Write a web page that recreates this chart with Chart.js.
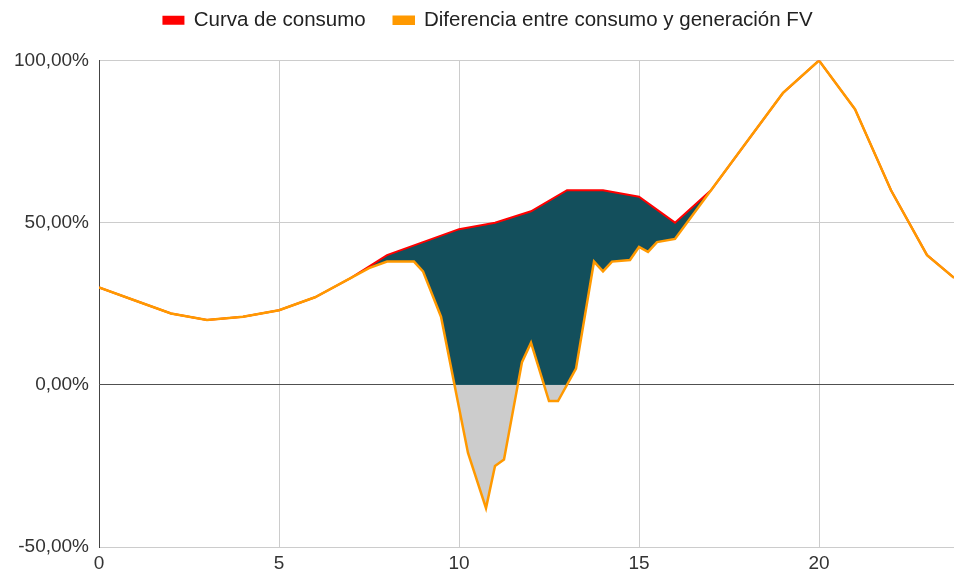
<!DOCTYPE html>
<html>
<head>
<meta charset="utf-8">
<script src="https://cdn.jsdelivr.net/npm/chart.js@4"></script>
<style>
  html, body { margin: 0; padding: 0; background: #fff; }
  #wrap { width: 954px; height: 574px; position: relative; }
</style>
</head>
<body>
<div id="wrap"><canvas id="chart"></canvas></div>
<script>
// hours for each series (15 min resolution where the curve changes fast)
const diffHours = [0, 1, 2, 3, 4, 5, 6, 7, 7.5, 8, 8.75, 9, 9.5, 10.25, 10.75, 11, 11.25, 11.75, 12, 12.5, 12.75, 13.25, 13.75, 14, 14.25, 14.75, 15, 15.25, 15.5, 16, 17, 18, 19, 20, 21, 22, 23, 23.75];
const diffValues = [30, 26, 22, 20, 21, 23, 27, 33, 36, 38, 38, 35, 21, -21, -38, -25, -23, 7, 13, -5, -5, 5, 38, 35, 38, 38.5, 42.5, 41, 44, 45, 60, 75, 90, 100, 85, 60, 40, 33];

const consumoHours = [0, 1, 2, 3, 4, 5, 6, 7, 8, 9, 10, 11, 12, 13, 14, 15, 16, 17, 18, 19, 20, 21, 22, 23, 23.75];
const consumoValues = [30, 26, 22, 20, 21, 23, 27, 33, 40, 44, 48, 50, 53.5, 60, 60, 58, 50, 60, 75, 90, 100, 85, 60, 40, 33];

const xTicks = [0, 5, 10, 15, 20];

const toPoints = (xs, ys) => xs.map((x, i) => ({ x: x, y: ys[i] }));

const fmtPct = v => v.toFixed(2).replace('.', ',') + '%';

const FONT = "'Liberation Sans', Arial, sans-serif";

// extra room under the legend, and legend nudged a bit to the right
const legendGap = {
    id: 'legendGap',
    afterInit(chart) {
        const legend = chart.legend;
        const fit = legend.fit;
        legend.fit = function () {
            fit.call(this);
            this.height += 20;
        };
    },
    afterLayout(chart) {
        chart.legend.left += 11;
        chart.legend.right += 11;
    }
};

new Chart(document.getElementById('chart'), {
    type: 'line',
    data: {
        datasets: [
            {
                // drawn last so it sits on top of the red line
                label: 'Diferencia entre consumo y generación FV',
                data: toPoints(diffHours, diffValues),
                borderColor: '#ff9900',
                backgroundColor: '#ff9900',
                borderWidth: 2.5,
                pointRadius: 0,
                tension: 0,
                fill: { target: { value: 0 }, above: 'rgba(0,0,0,0)', below: '#cccccc' }
            },
            {
                label: 'Curva de consumo',
                data: toPoints(consumoHours, consumoValues),
                borderColor: '#ff0000',
                backgroundColor: '#ff0000',
                borderWidth: 2,
                pointRadius: 0,
                tension: 0,
                fill: { target: 0, above: '#134f5c', below: '#134f5c' }
            }
        ]
    },
    plugins: [legendGap],
    options: {
        responsive: true,
        maintainAspectRatio: false,
        animation: false,
        layout: { padding: { top: -18, left: 0, right: 0, bottom: 0 } },
        plugins: {
            legend: {
                position: 'top',
                reverse: true,
                labels: {
                    boxWidth: 20,
                    boxHeight: 7,
                    padding: 28,
                    color: '#222',
                    font: { family: FONT, size: 20.5 }
                }
            },
            tooltip: { enabled: false }
        },
        scales: {
            x: {
                type: 'linear',
                min: 0,
                max: 23.75,
                afterBuildTicks: (scale) => {
                    scale.ticks = xTicks.map(v => ({ value: v }));
                },
                afterFit: (scale) => { scale.height = 27; },
                grid: { color: '#cccccc', lineWidth: 1, drawTicks: false },
                border: { color: '#cccccc', width: 1 },
                ticks: {
                    padding: 5,
                    color: '#333',
                    font: { family: FONT, size: 19 },
                    maxRotation: 0
                }
            },
            y: {
                min: -50,
                max: 100,
                afterFit: (scale) => { scale.width = 99; },
                grid: {
                    color: (ctx) => ctx.tick && ctx.tick.value === 0 ? '#333333' : '#cccccc',
                    lineWidth: 1,
                    drawTicks: false
                },
                border: { color: '#444444', width: 1 },
                ticks: {
                    stepSize: 50,
                    padding: 10,
                    color: '#333',
                    font: { family: FONT, size: 19 },
                    callback: (v) => fmtPct(v)
                }
            }
        }
    }
});
</script>
</body>
</html>
